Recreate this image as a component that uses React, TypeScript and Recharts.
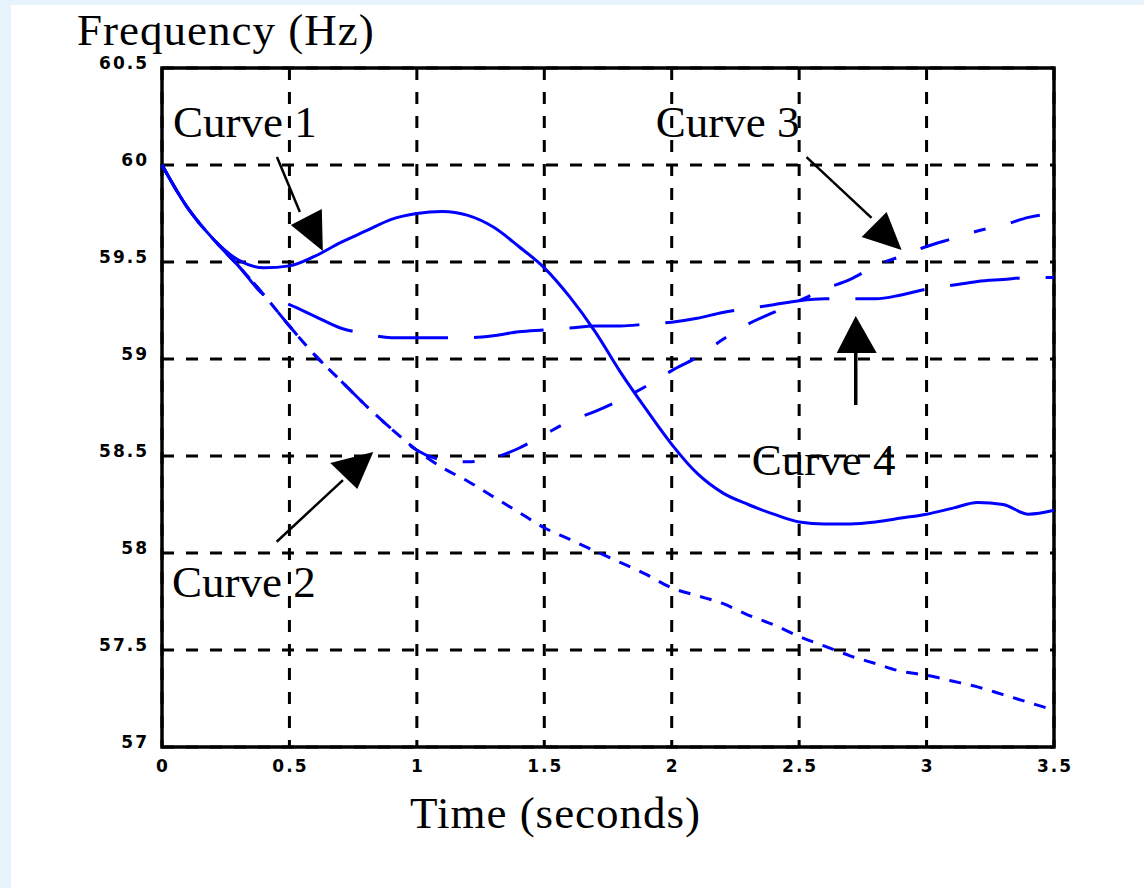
import {
  LineChart,
  Line,
  XAxis,
  YAxis,
  CartesianGrid,
  ReferenceArea,
  ReferenceLine,
  ReferenceDot,
} from "recharts";

// time in seconds
const times = [
  0, 0.1, 0.2, 0.3, 0.4, 0.5, 0.6, 0.7, 0.8, 0.9, 1.0, 1.1, 1.2, 1.3, 1.4, 1.5, 1.6, 1.7,
  1.8, 1.9, 2.0, 2.1, 2.2, 2.3, 2.4, 2.5, 2.6, 2.7, 2.8, 2.9, 3.0, 3.1, 3.2, 3.3, 3.4, 3.5,
];

// frequency in Hz
const curve1 = [
  60.0, 59.78, 59.62, 59.51, 59.47, 59.48, 59.53, 59.6, 59.66, 59.72, 59.75, 59.76, 59.74,
  59.68, 59.58, 59.47, 59.32, 59.14, 58.93, 58.74, 58.56, 58.41, 58.31, 58.25, 58.2, 58.16,
  58.15, 58.15, 58.16, 58.18, 58.2, 58.23, 58.26, 58.25, 58.2, 58.22,
];
const curve2 = [
  60.0, 59.78, 59.62, 59.48, 59.33, 59.17, 59.02, 58.89, 58.76, 58.64, 58.53, 58.44, 58.37,
  58.29, 58.21, 58.13, 58.07, 58.01, 57.95, 57.89, 57.82, 57.78, 57.74, 57.68, 57.63, 57.57,
  57.52, 57.47, 57.43, 57.39, 57.37, 57.34, 57.31, 57.27, 57.23, 57.19,
];
const curve3 = [
  60.0, 59.78, 59.62, 59.48, 59.33, 59.17, 59.02, 58.89, 58.76, 58.64, 58.53, 58.48, 58.47,
  58.49, 58.54, 58.61, 58.68, 58.73, 58.79, 58.86, 58.94, 59.01, 59.1, 59.18, 59.24, 59.3,
  59.36, 59.41, 59.48, 59.53, 59.58, 59.62, 59.66, 59.69, 59.73, 59.75,
];
const curve4 = [
  60.0, 59.78, 59.62, 59.48, 59.33, 59.28, 59.22, 59.16, 59.13, 59.11, 59.11, 59.11, 59.11,
  59.12, 59.14, 59.15, 59.16, 59.17, 59.17, 59.18, 59.19, 59.21, 59.24, 59.26, 59.28, 59.3,
  59.31, 59.31, 59.31, 59.33, 59.36, 59.38, 59.4, 59.41, 59.42, 59.42,
];

const xTicks = [0, 0.5, 1, 1.5, 2, 2.5, 3, 3.5];
const yTicks = [57, 57.5, 58, 58.5, 59, 59.5, 60, 60.5];

// annotations, in data units
const curveLabels = [
  { text: "Curve 1", t: 0.043, f: 60.144 },
  { text: "Curve 2", t: 0.039, f: 57.773 },
  { text: "Curve 3", t: 1.937, f: 60.144 },
  { text: "Curve 4", t: 2.314, f: 58.402 },
];
const arrowShafts = [
  { t1: 0.451, f1: 60.041, t2: 0.541, f2: 59.758, w: 2.5 },
  { t1: 0.45, f1: 58.058, t2: 0.71, f2: 58.376, w: 2.5 },
  { t1: 2.529, f1: 60.041, t2: 2.784, f2: 59.727, w: 2.5 },
  { t1: 2.722, f1: 59.05, t2: 2.722, f2: 58.763, w: 3.5 },
];
// tip of each head; the corners are pixel offsets from the tip
const arrowHeads = [
  { t: 0.631, f: 59.557, c: [[-32, -26], [-1, -42]] },
  { t: 0.829, f: 58.521, c: [[-43, 11], [-16, 37]] },
  { t: 2.902, f: 59.562, c: [[-40, -13], [-15, -38]] },
  { t: 2.722, f: 59.222, c: [[-19, 37], [21, 37]] },
];

const data = times.map((t, i) => ({
  t,
  c1: curve1[i],
  c2: curve2[i],
  c3: curve3[i],
  c4: curve4[i],
}));

const BLUE = "#0000ff";
const SERIF = '"Liberation Serif", "Times New Roman", serif';
const TICK_FONT = '"DejaVu Sans", sans-serif';

const XTick = (props: any) => {
  const { x, y, payload } = props;
  return (
    <text
      x={x + 1}
      y={y + 19}
      textAnchor="middle"
      dominantBaseline="central"
      fontFamily={TICK_FONT}
      fontWeight="bold"
      fontSize={17}
      letterSpacing={2}
      fill="#000"
    >
      {String(payload.value)}
    </text>
  );
};

const YTick = (props: any) => {
  const { x, y, payload } = props;
  return (
    <text
      x={x - 13}
      y={y - 5}
      textAnchor="end"
      dominantBaseline="central"
      fontFamily={TICK_FONT}
      fontWeight="bold"
      fontSize={17}
      letterSpacing={2}
      fill="#000"
    >
      {String(payload.value)}
    </text>
  );
};

const TimeTitle = (props: any) => {
  const vb = props.viewBox || {};
  return (
    <text
      x={vb.x + 248}
      y={vb.y + 81}
      fontFamily={SERIF}
      fontSize={45}
      letterSpacing={1}
      fill="#000"
    >
      Time (seconds)
    </text>
  );
};

const FreqTitle = (props: any) => {
  const vb = props.viewBox || {};
  return (
    <text
      x={vb.x + vb.width - 85}
      y={vb.y - 23}
      fontFamily={SERIF}
      fontSize={45}
      letterSpacing={1}
      fill="#000"
    >
      Frequency (Hz)
    </text>
  );
};

export default function App() {
  return (
    <div style={{ position: "relative", width: 1144, height: 888, background: "#e8f4fc" }}>
      <style>{"body{margin:0}"}</style>
      <div
        style={{ position: "absolute", left: 11, top: 5, right: 0, bottom: 0, background: "#fff" }}
      />
      <div style={{ position: "absolute", left: 0, top: 0 }}>
        <LineChart
          width={1144}
          height={888}
          data={data}
          margin={{ top: 68, right: 90, left: 102, bottom: 101 }}
        >
          <CartesianGrid stroke="#000" strokeWidth={3} strokeDasharray="12 12" />
          <XAxis
            dataKey="t"
            type="number"
            domain={[0, 3.5]}
            ticks={xTicks}
            interval={0}
            height={40}
            tickSize={0}
            tickMargin={0}
            axisLine={false}
            tickLine={false}
            tick={XTick}
            label={TimeTitle}
          />
          <YAxis
            type="number"
            domain={[57, 60.5]}
            ticks={yTicks}
            interval={0}
            width={60}
            tickSize={0}
            tickMargin={0}
            axisLine={false}
            tickLine={false}
            tick={YTick}
            label={FreqTitle}
          />
          <ReferenceArea
            x1={0}
            x2={3.5}
            y1={57}
            y2={60.5}
            fill="none"
            stroke="#000"
            strokeWidth={3.5}
            ifOverflow="visible"
          />
          <Line
            dataKey="c2"
            type="monotone"
            stroke={BLUE}
            strokeWidth={3}
            strokeDasharray="12 10"
            dot={false}
            isAnimationActive={false}
          />
          <Line
            dataKey="c3"
            type="monotone"
            stroke={BLUE}
            strokeWidth={3}
            strokeDasharray="30 26 12 26"
            dot={false}
            isAnimationActive={false}
          />
          <Line
            dataKey="c4"
            type="monotone"
            stroke={BLUE}
            strokeWidth={3}
            strokeDasharray="70 26"
            dot={false}
            isAnimationActive={false}
          />
          <Line
            dataKey="c1"
            type="monotone"
            stroke={BLUE}
            strokeWidth={3}
            dot={false}
            isAnimationActive={false}
          />
          {arrowShafts.map((a, i) => (
            <ReferenceLine
              key={"s" + i}
              segment={[
                { x: a.t1, y: a.f1 },
                { x: a.t2, y: a.f2 },
              ]}
              stroke="#000"
              strokeWidth={a.w}
            />
          ))}
          {arrowHeads.map((h, i) => (
            <ReferenceDot
              key={"h" + i}
              x={h.t}
              y={h.f}
              r={1}
              shape={(p: any) => (
                <polygon
                  points={`${p.cx},${p.cy} ${p.cx + h.c[0][0]},${p.cy + h.c[0][1]} ${
                    p.cx + h.c[1][0]
                  },${p.cy + h.c[1][1]}`}
                  fill="#000"
                />
              )}
            />
          ))}
          {curveLabels.map((l, i) => (
            <ReferenceDot
              key={"l" + i}
              x={l.t}
              y={l.f}
              r={1}
              shape={(p: any) => (
                <text x={p.cx} y={p.cy} fontFamily={SERIF} fontSize={45} fill="#000">
                  {l.text}
                </text>
              )}
            />
          ))}
        </LineChart>
      </div>
    </div>
  );
}
